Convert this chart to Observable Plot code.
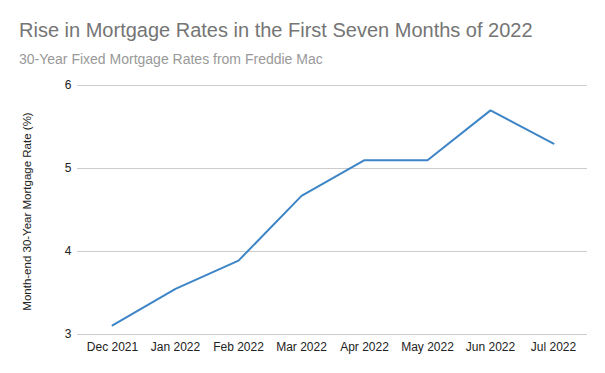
<!DOCTYPE html>
<html>
<head>
<meta charset="utf-8">
<script src="https://cdn.jsdelivr.net/npm/d3@7"></script>
<script src="https://cdn.jsdelivr.net/npm/@observablehq/plot@0.6"></script>
<style>
  body { margin: 0; background: #fff; }
  #wrap { position: relative; width: 605px; height: 373px; overflow: hidden; font-family: "Liberation Sans", Arial, sans-serif; }
  #head { position: relative; height: 78px; }
  #title { position: absolute; left: 19px; top: 20px; font-size: 20px; line-height: 20px; color: #757575; white-space: nowrap; }
  #subtitle { position: absolute; left: 19px; top: 52px; font-size: 14px; line-height: 14px; color: #999999; white-space: nowrap; }
  #chart svg { display: block; }
</style>
</head>
<body>
<div id="wrap">
  <div id="head">
    <div id="title">Rise in Mortgage Rates in the First Seven Months of 2022</div>
    <div id="subtitle">30-Year Fixed Mortgage Rates from Freddie Mac</div>
  </div>
  <div id="chart"></div>
</div>
<script>
const months = ["Dec 2021", "Jan 2022", "Feb 2022", "Mar 2022", "Apr 2022", "May 2022", "Jun 2022", "Jul 2022"];
const rates = [3.11, 3.55, 3.89, 4.67, 5.10, 5.10, 5.70, 5.30];
const yTicks = [3, 4, 5, 6];
const yLabel = "Month-end 30-Year Mortgage Rate (%)";

const data = months.map((m, i) => ({month: m, rate: rates[i]}));

const W = 605, H = 295;
const plot = Plot.plot({
  width: W,
  height: H,
  marginLeft: 77,
  marginRight: 18,
  marginTop: 7,
  marginBottom: 39,
  style: {fontFamily: "'Liberation Sans', Arial, sans-serif", fontSize: "12px", color: "#222", background: "#fff"},
  x: {type: "point", domain: months, padding: 0.5},
  y: {domain: [3, 6]},
  marks: [
    Plot.gridY(yTicks, {stroke: "#cccccc", strokeOpacity: 1, strokeWidth: 1}),
    Plot.axisY(yTicks, {tickSize: 0, tickPadding: 6, label: null, fill: "#222", tickFormat: d3.format("d")}),
    Plot.axisX({tickSize: 0, tickPadding: 8, label: null, fill: "#222"}),
    Plot.line(data, {x: "month", y: "rate", stroke: "#3d85c6", strokeWidth: 2, strokeLinejoin: "round"})
  ]
});
document.getElementById("chart").appendChild(plot);

d3.select(plot).append("text")
  .attr("transform", `translate(31,${(7 + H - 39) / 2 + 2}) rotate(-90)`)
  .attr("text-anchor", "middle")
  .attr("font-size", "11.5px")
  .attr("fill", "#222")
  .text(yLabel);
</script>
</body>
</html>
